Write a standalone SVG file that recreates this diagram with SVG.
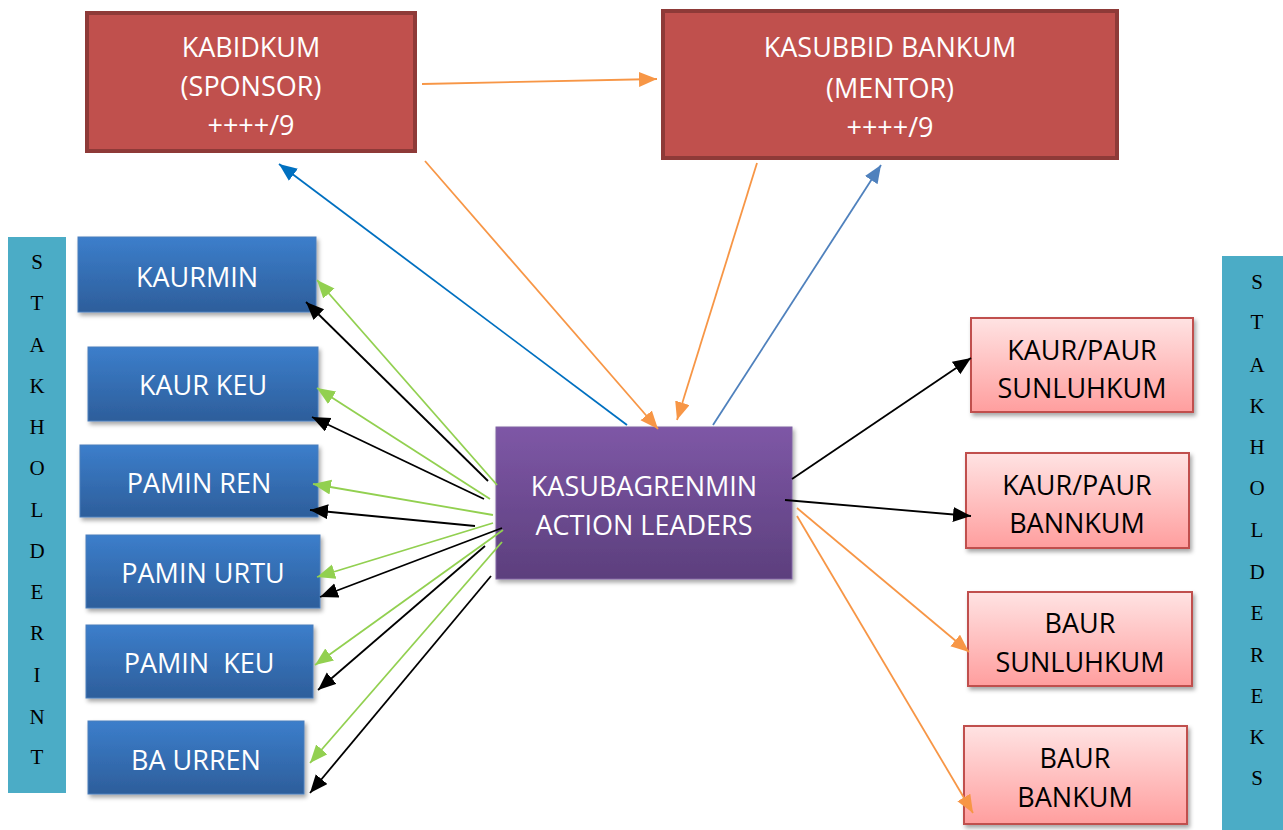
<svg xmlns="http://www.w3.org/2000/svg" width="1283" height="830" viewBox="0 0 1283 830">
<style>
.lbl{font-family:"Open Sans","Liberation Sans",sans-serif;font-size:27px;text-anchor:middle}
.w{fill:#ffffff}
.k{fill:#000000}
.side{font-family:"Liberation Serif","Times New Roman",serif;font-size:21px;text-anchor:middle;fill:#000}
.red{fill:#C0504D;stroke:#8E3A38;stroke-width:4}
.blue{fill:url(#gBlue);stroke:#4A7EBB;stroke-width:1;filter:url(#sh)}
.purple{fill:url(#gPurple);stroke:#8064A2;stroke-width:1;filter:url(#sh)}
.pink{fill:url(#gPink);stroke:#C0504D;stroke-width:2;filter:url(#sh)}
.bar{fill:#4BACC6}
.c{fill:none;stroke-width:1.8}
.cg{stroke:#92D050;marker-end:url(#mG)}
.ck{stroke:#000;marker-end:url(#mK)}
.co{stroke:#F79646;marker-end:url(#mO)}
.cb{stroke:#0070C0;marker-end:url(#mB)}
.cb2{stroke:#4F81BD;marker-end:url(#mB2)}
</style>
<defs>
<linearGradient id="gBlue" x1="0" y1="0" x2="0" y2="1"><stop offset="0" stop-color="#3C7ECB"/><stop offset="1" stop-color="#2D5E9B"/></linearGradient>
<linearGradient id="gPurple" x1="0" y1="0" x2="0" y2="1"><stop offset="0" stop-color="#7E57A6"/><stop offset="1" stop-color="#5C3F7D"/></linearGradient>
<linearGradient id="gPink" x1="0" y1="0" x2="0" y2="1"><stop offset="0" stop-color="#FFE3E3"/><stop offset="1" stop-color="#FF9E9E"/></linearGradient>
<filter id="sh" x="-10%" y="-10%" width="125%" height="130%"><feDropShadow dx="2" dy="3" stdDeviation="2" flood-color="#000" flood-opacity="0.35"/></filter>
<marker id="mG" markerUnits="userSpaceOnUse" markerWidth="19" markerHeight="16" refX="18" refY="7.5" orient="auto"><path d="M0,0 L18,7.5 L0,15 z" fill="#92D050"/></marker>
<marker id="mK" markerUnits="userSpaceOnUse" markerWidth="19" markerHeight="16" refX="18" refY="7.5" orient="auto"><path d="M0,0 L18,7.5 L0,15 z" fill="#000"/></marker>
<marker id="mO" markerUnits="userSpaceOnUse" markerWidth="19" markerHeight="16" refX="18" refY="7.5" orient="auto"><path d="M0,0 L18,7.5 L0,15 z" fill="#F79646"/></marker>
<marker id="mB" markerUnits="userSpaceOnUse" markerWidth="19" markerHeight="16" refX="18" refY="7.5" orient="auto"><path d="M0,0 L18,7.5 L0,15 z" fill="#0070C0"/></marker>
<marker id="mB2" markerUnits="userSpaceOnUse" markerWidth="19" markerHeight="16" refX="18" refY="7.5" orient="auto"><path d="M0,0 L18,7.5 L0,15 z" fill="#4F81BD"/></marker>
</defs>
<rect width="1283" height="830" fill="#fff"/>

<g id="stakholderint">
<rect class="bar" x="8" y="237" width="58" height="556"/>
<text class="side" x="37" y="269">S</text>
<text class="side" x="37" y="310">T</text>
<text class="side" x="37" y="352">A</text>
<text class="side" x="37" y="393">K</text>
<text class="side" x="37" y="434">H</text>
<text class="side" x="37" y="475">O</text>
<text class="side" x="37" y="517">L</text>
<text class="side" x="37" y="558">D</text>
<text class="side" x="37" y="599">E</text>
<text class="side" x="37" y="640">R</text>
<text class="side" x="37" y="682">I</text>
<text class="side" x="37" y="724">N</text>
<text class="side" x="37" y="764">T</text>
</g>

<g id="stakholdereks">
<rect class="bar" x="1222" y="256" width="61" height="574"/>
<text class="side" x="1257" y="289">S</text>
<text class="side" x="1257" y="329">T</text>
<text class="side" x="1257" y="372">A</text>
<text class="side" x="1257" y="413">K</text>
<text class="side" x="1257" y="454">H</text>
<text class="side" x="1257" y="495">O</text>
<text class="side" x="1257" y="537">L</text>
<text class="side" x="1257" y="579">D</text>
<text class="side" x="1257" y="620">E</text>
<text class="side" x="1257" y="662">R</text>
<text class="side" x="1257" y="703">E</text>
<text class="side" x="1257" y="744">K</text>
<text class="side" x="1257" y="785">S</text>
</g>

<g id="kabidkum">
<rect class="red" x="87" y="13" width="328" height="138"/>
<text class="lbl w" x="251" y="57">KABIDKUM</text>
<text class="lbl w" x="251" y="96">(SPONSOR)</text>
<text class="lbl w" x="251" y="135">++++/9</text>
</g>

<g id="kasubbid">
<rect class="red" x="663" y="11" width="454" height="147"/>
<text class="lbl w" x="890" y="57">KASUBBID BANKUM</text>
<text class="lbl w" x="890" y="98">(MENTOR)</text>
<text class="lbl w" x="890" y="137">++++/9</text>
</g>

<g id="kaurmin">
<rect class="blue" x="78" y="237" width="238" height="75"/>
<text class="lbl w" x="197" y="287">KAURMIN</text>
</g>
<g id="kaurkeu">
<rect class="blue" x="88" y="347" width="230" height="74"/>
<text class="lbl w" x="203" y="395">KAUR KEU</text>
</g>
<g id="paminren">
<rect class="blue" x="80" y="445" width="238" height="72"/>
<text class="lbl w" x="199" y="493">PAMIN REN</text>
</g>
<g id="paminurtu">
<rect class="blue" x="86" y="535" width="234" height="73"/>
<text class="lbl w" x="203" y="583">PAMIN URTU</text>
</g>
<g id="paminkeu">
<rect class="blue" x="86" y="625" width="227" height="73"/>
<text class="lbl w" x="199" y="673" xml:space="preserve">PAMIN  KEU</text>
</g>
<g id="baurren">
<rect class="blue" x="88" y="721" width="216" height="73"/>
<text class="lbl w" x="196" y="770">BA URREN</text>
</g>

<g id="kasubagrenmin">
<rect class="purple" x="496" y="427" width="296" height="152"/>
<text class="lbl w" x="644" y="496">KASUBAGRENMIN</text>
<text class="lbl w" x="644" y="535">ACTION LEADERS</text>
</g>

<g id="kaurpaur-sunluhkum">
<rect class="pink" x="971" y="318" width="222" height="94"/>
<text class="lbl k" x="1082" y="360">KAUR/PAUR</text>
<text class="lbl k" x="1082" y="398">SUNLUHKUM</text>
</g>
<g id="kaurpaur-bannkum">
<rect class="pink" x="966" y="453" width="223" height="95"/>
<text class="lbl k" x="1077" y="495">KAUR/PAUR</text>
<text class="lbl k" x="1077" y="533">BANNKUM</text>
</g>
<g id="baur-sunluhkum">
<rect class="pink" x="968" y="592" width="224" height="94"/>
<text class="lbl k" x="1080" y="633">BAUR</text>
<text class="lbl k" x="1080" y="672">SUNLUHKUM</text>
</g>
<g id="baur-bankum">
<rect class="pink" x="964" y="726" width="223" height="98"/>
<text class="lbl k" x="1075" y="768">BAUR</text>
<text class="lbl k" x="1075" y="807">BANKUM</text>
</g>

<g id="connectors">
<line class="c co" x1="422" y1="84" x2="657" y2="79"/>
<line class="c cb" x1="627" y1="425" x2="279" y2="164"/>
<line class="c co" x1="425" y1="161" x2="658" y2="429"/>
<line class="c co" x1="757" y1="163" x2="677" y2="420"/>
<line class="c cb2" x1="713" y1="425" x2="881" y2="165"/>

<line class="c cg" x1="497" y1="485" x2="317" y2="280"/>
<line class="c ck" x1="488" y1="481" x2="306" y2="302"/>
<line class="c cg" x1="490" y1="499" x2="317" y2="388"/>
<line class="c ck" x1="484" y1="499" x2="312" y2="417"/>
<line class="c cg" x1="493" y1="515" x2="313" y2="484"/>
<line class="c ck" x1="475" y1="526" x2="310" y2="510"/>
<line class="c cg" x1="493" y1="523" x2="317" y2="577"/>
<line class="c ck" x1="502" y1="528" x2="320" y2="597"/>
<line class="c cg" x1="503" y1="530" x2="315" y2="665"/>
<line class="c ck" x1="485" y1="546" x2="318" y2="690"/>
<line class="c cg" x1="502" y1="542" x2="310" y2="763"/>
<line class="c ck" x1="491" y1="576" x2="310" y2="793"/>

<line class="c ck" x1="792" y1="479" x2="971" y2="358"/>
<line class="c ck" x1="785" y1="500" x2="971" y2="516"/>
<line class="c co" x1="797" y1="508" x2="969" y2="652"/>
<line class="c co" x1="797" y1="516" x2="973" y2="813"/>
</g>
</svg>
